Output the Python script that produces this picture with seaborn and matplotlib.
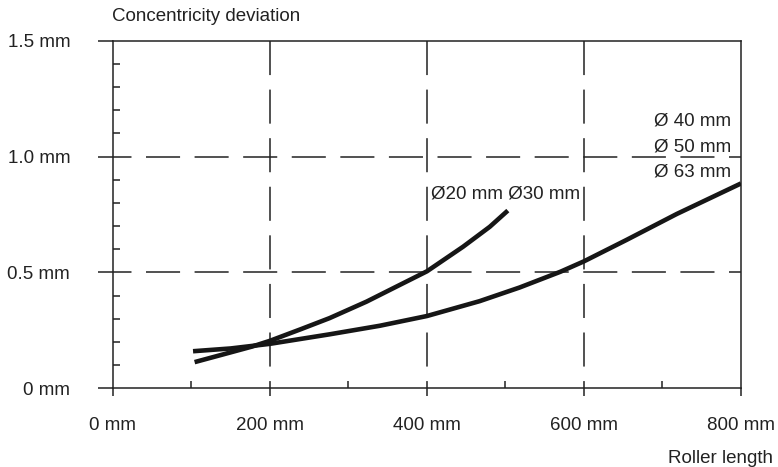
import numpy as np
import pandas as pd
import matplotlib
matplotlib.use("Agg")
import matplotlib.pyplot as plt
import seaborn as sns
from matplotlib.ticker import MultipleLocator, FixedLocator

# Curve values (roller length in mm, deviation in mm)
small_len = [104, 140, 177, 200, 240, 276, 323, 360, 400, 446, 480, 503]
small_dev = [0.113, 0.146, 0.180, 0.205, 0.256, 0.303, 0.374, 0.437, 0.505, 0.611, 0.697, 0.767]
large_len = [102, 150, 200, 276, 340, 400, 467, 518, 570, 600, 654, 718, 800]
large_dev = [0.160, 0.172, 0.192, 0.233, 0.270, 0.312, 0.376, 0.435, 0.503, 0.548, 0.640, 0.752, 0.884]

x_ticks = [0, 200, 400, 600, 800]
x_tick_labels = ["0 mm", "200 mm", "400 mm", "600 mm", "800 mm"]
y_ticks = [0, 0.5, 1.0, 1.5]
y_tick_labels = ["0 mm", "0.5 mm", "1.0 mm", "1.5 mm"]
x_minor = [100, 300, 500, 700]

large_labels = ["Ø 40 mm", "Ø 50 mm", "Ø 63 mm"]
small_label = "Ø20 mm Ø30 mm"

df = pd.concat([
    pd.DataFrame({"length": small_len, "dev": small_dev, "series": "small"}),
    pd.DataFrame({"length": large_len, "dev": large_dev, "series": "large"}),
])

sns.set_style("ticks")
plt.rcParams["font.family"] = ["Liberation Sans", "DejaVu Sans"]

ink = "#222222"
lw = 1.1
fs = 13.5

fig = plt.figure(figsize=(7.78, 4.67), dpi=100)
ax = fig.add_axes([0.1452, 0.1685, 0.8072, 0.7443])

# dashed reference lines
dash_h = (10.2, (22.3, 9.5))
dash_v = (0, (22.3, 9.5))
ax.hlines([0.5, 1.0], 0, 800, colors=ink, linewidth=lw, linestyles=[dash_h], zorder=1)
ax.vlines([200, 400, 600], 1.5, 0, colors=ink, linewidth=lw, linestyles=[dash_v], zorder=1)

sns.lineplot(data=df, x="length", y="dev", hue="series",
             palette={"small": "#161616", "large": "#161616"},
             sort=False, estimator=None, legend=False, linewidth=3.3,
             solid_capstyle="butt", solid_joinstyle="round", ax=ax, zorder=3)

ax.set_xlim(0, 800)
ax.set_ylim(0, 1.5)
ax.set_xlabel("")
ax.set_ylabel("")

ax.xaxis.set_major_locator(FixedLocator(x_ticks))
ax.set_xticklabels(x_tick_labels)
ax.xaxis.set_minor_locator(FixedLocator(x_minor))
ax.yaxis.set_major_locator(FixedLocator(y_ticks))
ax.set_yticklabels(y_tick_labels)
ax.yaxis.set_minor_locator(MultipleLocator(0.1))

ax.tick_params(axis="y", which="major", direction="out", length=10.8, width=lw,
               pad=20, labelsize=fs, color=ink, labelcolor=ink)
ax.tick_params(axis="y", which="minor", direction="in", length=5.2, width=lw, color=ink)
ax.tick_params(axis="x", which="major", direction="out", length=5.4, width=lw,
               pad=15, labelsize=fs, color=ink, labelcolor=ink)
ax.tick_params(axis="x", which="minor", direction="in", length=5.0, width=lw, color=ink)

for s in ax.spines.values():
    s.set_visible(True)
    s.set_linewidth(lw)
    s.set_color(ink)

# labels
for lab, yy in zip(large_labels, [1.136, 1.024, 0.913]):
    ax.text(788, yy, lab, ha="right", va="baseline", fontsize=fs, color=ink)
ax.text(405, 0.817, small_label, ha="left", va="baseline", fontsize=fs, color=ink)

fig.text(112 / 778, 1 - 20.7 / 467, "Concentricity deviation", ha="left",
         va="baseline", fontsize=fs, color=ink)
fig.text(773 / 778, 1 - 463 / 467, "Roller length", ha="right",
         va="baseline", fontsize=fs, color=ink)

fig.savefig("out.png", dpi=100)
